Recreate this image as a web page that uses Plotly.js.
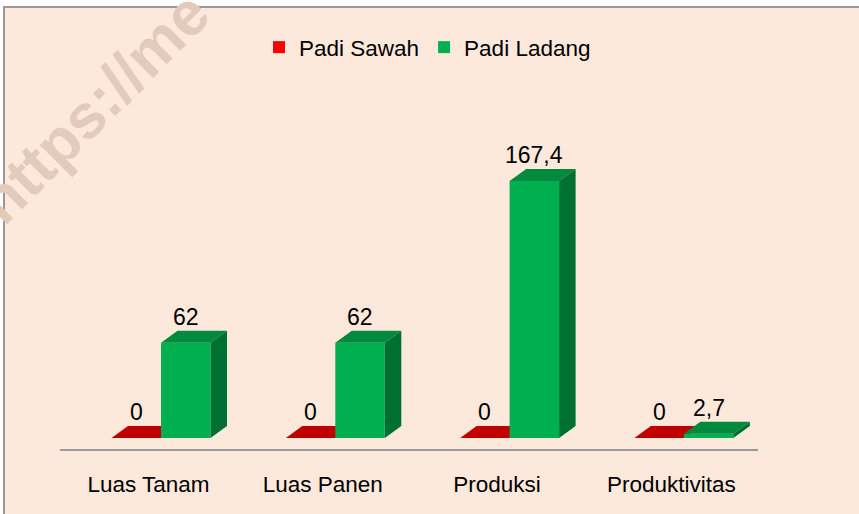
<!DOCTYPE html>
<html>
<head>
<meta charset="utf-8">
<script src="https://cdn.plot.ly/plotly-3.0.1.min.js"></script>
<style>html,body{margin:0;padding:0;background:#fff;}#chart{width:859px;height:514px;}</style>
</head>
<body>
<div id="chart"></div>
<script>
// ---- data ----
const categories = ['Luas Tanam', 'Luas Panen', 'Produksi', 'Produktivitas'];
const seriesNames = ['Padi Sawah', 'Padi Ladang'];
const padiSawah = [0, 0, 0, 0];
const padiLadang = [62, 62, 167.4, 2.7];

// ---- layout geometry (pixels) ----
const W = 859, H = 514;
const plotL = 60, plotR = 758, plotT = 0, plotB = 449;
const kx = 174.3;          // px per category step
const ky = 1.535;          // px per value unit
const basePx = 438;        // baseline of bar fronts
const groupPx = 161;       // px of first group centre
const x0 = -(groupPx - plotL) / kx;
const x1 = x0 + (plotR - plotL) / kx;
const y0 = -(plotB - basePx) / ky;
const y1 = y0 + (plotB - plotT) / ky;
const barW = 49.5 / kx;
const dx = 16.5 / kx, dy = 12 / ky;
const tickOffset = -12.5 / kx;

const px2paperX = p => (p - plotL) / (plotR - plotL);
const px2paperY = p => (plotB - p) / (plotB - plotT);

const colors = {
  sawah: {front: '#ff0000', top: '#c00000', side: '#a00000'},
  ladang: {front: '#00b050', top: '#008a3e', side: '#007030'}
};

const sawahX = categories.map((_, i) => i - barW / 2);
const ladangX = categories.map((_, i) => i + barW / 2);

const traces = [
  {type: 'bar', name: seriesNames[0], x: sawahX, y: padiSawah, width: barW,
   marker: {color: colors.sawah.front, line: {width: 0}}, hoverinfo: 'none'},
  {type: 'bar', name: seriesNames[1], x: ladangX, y: padiLadang, width: barW,
   marker: {color: colors.ladang.front, line: {width: 0}}, hoverinfo: 'none'}
];

function faces(cx, v, col, layer) {
  const l = cx - barW / 2, r = cx + barW / 2;
  const out = [];
  out.push({type: 'path', xref: 'x', yref: 'y', layer: layer,
    path: `M${l},${v} L${r},${v} L${r + dx},${v + dy} L${l + dx},${v + dy} Z`,
    fillcolor: col.top, line: {width: 0}});
  if (v > 0) {
    out.push({type: 'path', xref: 'x', yref: 'y', layer: layer,
      path: `M${r},0 L${r},${v} L${r + dx},${v + dy} L${r + dx},${dy} Z`,
      fillcolor: col.side, line: {width: 0}});
  }
  return out;
}

const shapes = [
  // chart area background with border (top & left visible)
  {type: 'rect', xref: 'paper', yref: 'paper', layer: 'below',
   x0: px2paperX(4), x1: px2paperX(900), y0: px2paperY(540), y1: px2paperY(7),
   fillcolor: '#fde9dc', line: {color: '#999999', width: 2}}
];
padiSawah.forEach((v, i) => shapes.push(...faces(sawahX[i], v, colors.sawah, 'below')));
padiLadang.forEach((v, i) => shapes.push(...faces(ladangX[i], v, colors.ladang, 'above')));

const fmt = v => String(v).replace('.', ',');
const annotations = [];
padiSawah.forEach((v, i) => annotations.push({xref: 'x', yref: 'y', x: sawahX[i], y: v,
  text: fmt(v), showarrow: false, yanchor: 'middle', yshift: 26,
  font: {family: 'Liberation Sans, Arial, sans-serif', size: 23, color: '#000'}}));
padiLadang.forEach((v, i) => annotations.push({xref: 'x', yref: 'y', x: ladangX[i], y: v,
  text: fmt(v), showarrow: false, yanchor: 'middle', yshift: 26,
  font: {family: 'Liberation Sans, Arial, sans-serif', size: 23, color: '#000'}}));
// watermark (cut off by the chart edge, as in the source)
annotations.push({xref: 'paper', yref: 'paper', x: px2paperX(93), y: px2paperY(107),
  text: '<b>https://me</b>', showarrow: false, textangle: -45,
  xanchor: 'center', yanchor: 'middle',
  font: {family: 'Liberation Sans, Arial, sans-serif', size: 62, color: '#e3cbbb'}});

const layout = {
  width: W, height: H,
  margin: {l: plotL, r: W - plotR, t: plotT, b: H - plotB, pad: 0},
  paper_bgcolor: '#ffffff', plot_bgcolor: 'rgba(0,0,0,0)',
  barmode: 'overlay',
  showlegend: true,
  legend: {orientation: 'h', x: px2paperX(259), xanchor: 'left', y: px2paperY(47.5), yanchor: 'middle',
    bgcolor: 'rgba(0,0,0,0)', font: {family: 'Liberation Sans, Arial, sans-serif', size: 22.5, color: '#000'},
    traceorder: 'normal'},
  xaxis: {range: [x0, x1], tickvals: categories.map((_, i) => i + tickOffset), ticktext: categories,
    showgrid: false, zeroline: false, showline: true, linecolor: '#999999', linewidth: 2,
    ticks: 'outside', ticklen: 14, tickcolor: 'rgba(0,0,0,0)',
    tickfont: {family: 'Liberation Sans, Arial, sans-serif', size: 22.5, color: '#000'}, fixedrange: true},
  yaxis: {range: [y0, y1], showgrid: false, zeroline: false, showline: false, showticklabels: false,
    ticks: '', fixedrange: true},
  shapes: shapes,
  annotations: annotations
};

Plotly.newPlot('chart', traces, layout, {staticPlot: true, displayModeBar: false});
</script>
</body>
</html>
